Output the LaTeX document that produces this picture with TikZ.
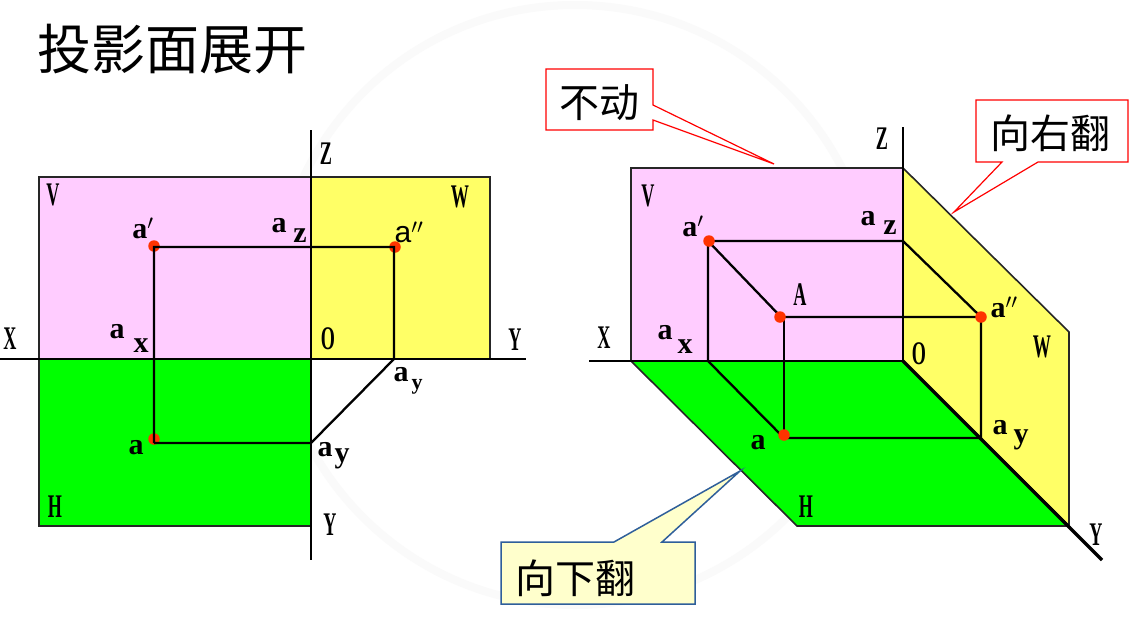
\documentclass[tikz,border=0pt]{standalone}
\usepackage{fontspec}
\setmainfont{Liberation Serif}
\newfontfamily\cjk{Noto Sans CJK SC}
\newfontfamily\lsans{Liberation Sans}
\definecolor{vpink}{HTML}{FFCCFF}
\definecolor{wyel}{HTML}{FFFF66}
\definecolor{hgreen}{HTML}{00FF00}
\definecolor{dotred}{HTML}{FF3300}
\definecolor{tipyel}{HTML}{FFFFCC}
\definecolor{tipblue}{HTML}{2F5F9A}
\definecolor{wm}{HTML}{FAFAFA}
\tikzset{
  plane/.style={draw=black!85,line width=1.6pt},
  axisline/.style={draw=black,line width=2.6pt},
  proj/.style={draw=black,line width=2.3pt},
  thickaxis/.style={draw=black,line width=3.4pt},
  caplabel/.style={inner sep=0pt,xscale=.55,font=\fontsize{33}{33}\selectfont\bfseries},
  bolda/.style={inner sep=0pt,font=\fontsize{30}{30}\selectfont\bfseries},
  dotmark/.style={circle,fill=dotred,inner sep=0pt,minimum size=11.5pt},
  redtip/.style={draw=red,fill=white,line width=1.2pt},
  bluetip/.style={draw=tipblue,fill=tipyel,line width=1.5pt},
  tiptext/.style={inner sep=0pt,font=\fontsize{40}{40}\selectfont\cjk},
}
\begin{document}
\begin{tikzpicture}[x=1pt,y=-1pt]
\useasboundingbox (0,0) rectangle (1139,624);
\fill[white] (0,0) rectangle (1139,624);
% faint watermark
\draw[wm,line width=8pt] (575,305) circle (300);
\node[inner sep=0pt] (title) at (172,49) {\fontsize{54}{54}\selectfont\cjk 投影面展开};

%% LEFT
\coordinate (lO) at (311,359);
\coordinate (lXe) at (0,359); \coordinate (lYe) at (526,359);
\coordinate (lZe) at (311,130); \coordinate (lYd) at (311,560);
\coordinate (lap) at (154,247); \coordinate (lapp) at (394,247);
\coordinate (la) at (154,443); \coordinate (layv) at (311,443);
\coordinate (layh) at (394,359);
\draw[plane,fill=vpink] (39,177) rectangle (311,359);
\draw[plane,fill=wyel] (311,177) rectangle (490,359);
\draw[plane,fill=hgreen] (39,359) rectangle (311,526);
\node[dotmark] (ldap) at (154,246) {};
\node[dotmark] (ldapp) at (395,247) {};
\node[dotmark] (lda) at (154,439) {};
\draw[proj] (la) -- (lap) -- (lapp) -- (layh) -- (layv) -- (la);
\draw[axisline] (lXe) -- (lYe);
\draw[axisline] (lZe) -- (lYd);
\node[caplabel] (lZ) at (326,154) {Z};
\node[caplabel] (lV) at (53,195) {V};
\node[caplabel] (lW) at (460,197) {W};
\node[caplabel] (lX) at (10,339) {X};
\node[caplabel] (lY) at (515,340) {Y};
\node[caplabel] (lOl) at (328,339) {O};
\node[caplabel] (lH) at (55,507) {H};
\node[caplabel] (lYb) at (330,525) {Y};
\node[bolda] (tap) at (143,228) {a$'$};
\node[bolda] (taz) at (279,226) {a};
\node[bolda] (tazs) at (300,236) {z};
\node[inner sep=0pt,font=\fontsize{30}{30}\selectfont\lsans] (tapp) at (409,232) {a$''$};
\node[bolda] (tax) at (117,332) {a};
\node[bolda] (taxs) at (141,346) {x};
\node[bolda] (tay1) at (401,375) {a};
\node[inner sep=0pt,font=\fontsize{22}{22}\selectfont\bfseries] (tay1s) at (417,387) {y};
\node[bolda] (ta) at (136,448) {a};
\node[bolda] (tay2) at (325,450) {a};
\node[bolda] (tay2s) at (342,459) {y};

%% RIGHT
\coordinate (rO) at (903,361); \coordinate (rXe) at (589,361);
\coordinate (rZe) at (903,127); \coordinate (rYe) at (1102,560);
\coordinate (rap) at (708,241); \coordinate (raz) at (903,241);
\coordinate (rA) at (781,317); \coordinate (rapp) at (981,317);
\coordinate (rax) at (708,361); \coordinate (ra) at (784,438);
\coordinate (ray) at (981,438); \coordinate (rAb) at (784,317);
\draw[plane,fill=wyel] (903,168) -- (1069,332) -- (1069,526) -- (903,361) -- cycle;
\draw[plane,fill=hgreen] (631,361) -- (903,361) -- (1069,526) -- (797,526) -- cycle;
\draw[plane,fill=vpink] (631,168) rectangle (903,361);
\draw[proj] (rap) -- (raz) -- (rapp) -- (rA) -- (rap) -- (rax) -- (ra) -- (ray) -- (rapp);
\draw[proj] (rAb) -- (ra);
\node[dotmark] (rdap) at (709,241) {};
\node[dotmark] (rdA) at (780,317) {};
\node[dotmark] (rdapp) at (981,317) {};
\node[dotmark] (rda) at (784,435) {};
\draw[axisline] (rXe) -- (rO);
\draw[axisline] (rZe) -- (rO);
\draw[thickaxis] (rO) -- (rYe);
\node[caplabel] (rZ) at (882,139) {Z};
\node[caplabel] (rV) at (648,196) {V};
\node[caplabel] (rAl) at (800,295) {A};
\node[caplabel] (rX) at (604,338) {X};
\node[caplabel] (rOl) at (919,354) {O};
\node[caplabel] (rW) at (1042,347) {W};
\node[caplabel] (rH) at (806,507) {H};
\node[caplabel] (rY) at (1096,535) {Y};
\node[bolda] (uap) at (693,226) {a$'$};
\node[bolda] (uaz) at (868,219) {a};
\node[bolda] (uazs) at (890,228) {z};
\node[bolda] (uapp) at (1004,307) {a$''$};
\node[bolda] (uax) at (665,333) {a};
\node[bolda] (uaxs) at (685,347) {x};
\node[bolda] (ua) at (758,443) {a};
\node[bolda] (uay) at (1000,428) {a};
\node[bolda] (uays) at (1021,440) {y};

%% CALLOUTS
\coordinate (tip1) at (774,164);
\coordinate (tip2) at (954,212);
\coordinate (tip3) at (740,471);
\draw[redtip] (546,69) -- (653,69) -- (653,105) -- (tip1) -- (653,120) -- (653,130) -- (546,130) -- cycle;
\node[tiptext] (c1) at (599,103) {不动};
\draw[redtip] (976,100) -- (1128,100) -- (1128,162) -- (1038,162) -- (tip2) -- (1002,162) -- (976,162) -- cycle;
\node[tiptext] (c2) at (1050,133) {向右翻};
\draw[bluetip] (501,542) -- (614,542) -- (tip3) -- (662,542) -- (695,542) -- (695,604) -- (501,604) -- cycle;
\node[tiptext] (c3) at (575,578) {向下翻};
\end{tikzpicture}
\end{document}
